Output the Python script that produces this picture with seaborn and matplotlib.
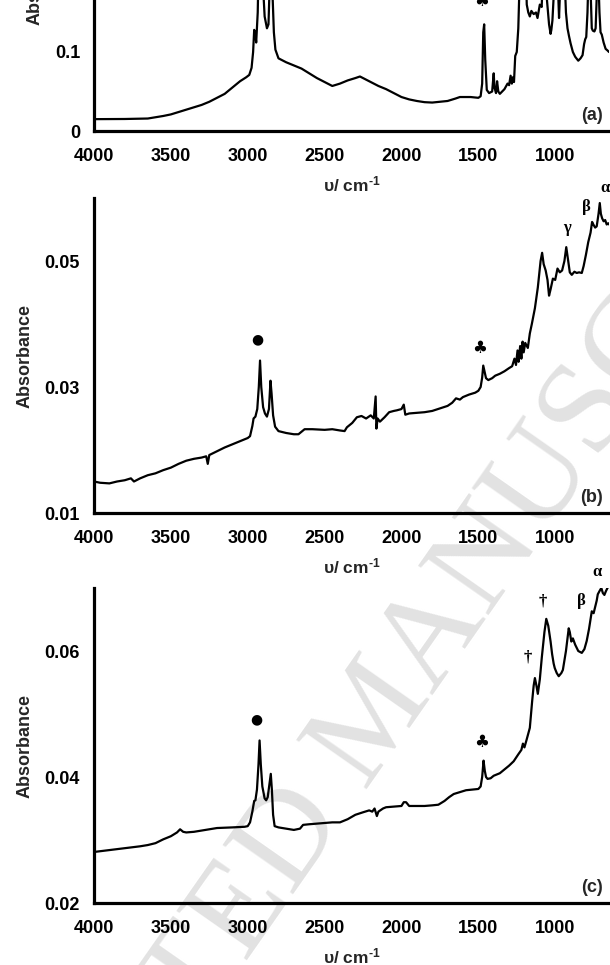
import numpy as np
import pandas as pd
import matplotlib
matplotlib.use("Agg")
import matplotlib.pyplot as plt
import seaborn as sns

# ---------------- data ----------------
a_cm = [4000, 3800, 3650, 3550, 3500, 3400, 3300, 3250, 3150, 3100, 3050, 3010, 2990, 2975, 2965,
        2958, 2950, 2945, 2935, 2925, 2918, 2905, 2890, 2875, 2865, 2855, 2850, 2840, 2830, 2820,
        2800, 2750, 2700, 2650, 2600, 2550, 2500, 2450, 2400, 2350, 2300, 2270, 2240, 2200, 2150,
        2100, 2050, 2000, 1950, 1900, 1850, 1800, 1750, 1700, 1650, 1620, 1550, 1500, 1485, 1475,
        1468, 1462, 1455, 1445, 1430, 1410, 1400, 1395, 1385, 1378, 1370, 1360, 1345, 1330, 1310,
        1300, 1290, 1282, 1275, 1268, 1260, 1250, 1240, 1230, 1222, 1210, 1195, 1185, 1175, 1165,
        1155, 1140, 1125, 1115, 1100, 1088, 1075, 1060, 1050, 1040, 1030, 1025, 1018, 1010, 995,
        985, 975, 968, 960, 950, 940, 930, 920, 910, 900, 885, 870, 850, 835, 822,
        812, 805, 798, 790, 780, 770, 762, 755, 745, 737, 728, 720, 712, 705, 697,
        685, 672, 660, 650]
a_abs = [0.015, 0.0152, 0.0158, 0.019, 0.021, 0.027, 0.033, 0.037, 0.047, 0.055, 0.063, 0.068, 0.071, 0.080, 0.100,
         0.128, 0.122, 0.112, 0.150, 0.25, 0.28, 0.20, 0.145, 0.130, 0.135, 0.20, 0.24, 0.18, 0.125, 0.103,
         0.092, 0.087, 0.083, 0.079, 0.073, 0.067, 0.062, 0.057, 0.060, 0.064, 0.067, 0.069, 0.066, 0.062, 0.057,
         0.053, 0.048, 0.043, 0.040, 0.038, 0.0365, 0.036, 0.037, 0.038, 0.041, 0.043, 0.043, 0.042, 0.044, 0.060,
         0.125, 0.135, 0.090, 0.052, 0.048, 0.050, 0.073, 0.055, 0.048, 0.063, 0.050, 0.047, 0.050, 0.053, 0.060,
         0.058, 0.070, 0.060, 0.068, 0.062, 0.095, 0.100, 0.130, 0.20, 0.30, 0.32, 0.24, 0.16, 0.150, 0.145,
         0.152, 0.148, 0.150, 0.143, 0.16, 0.157, 0.22, 0.18, 0.158, 0.135, 0.123, 0.128, 0.140, 0.17, 0.25,
         0.20, 0.143, 0.18, 0.26, 0.23, 0.20, 0.15, 0.13, 0.12, 0.111, 0.100, 0.094, 0.089, 0.092, 0.096,
         0.11, 0.116, 0.119, 0.15, 0.22, 0.18, 0.13, 0.127, 0.126, 0.13, 0.18, 0.20, 0.15, 0.125, 0.122,
         0.112, 0.104, 0.102, 0.100]

b_cm = [4000, 3960, 3900, 3850, 3800, 3760, 3740, 3700, 3650, 3600, 3550, 3500, 3450, 3400, 3350,
        3300, 3270, 3260, 3250, 3200, 3150, 3100, 3050, 3000, 2985, 2970, 2962, 2950, 2938, 2928,
        2920, 2912, 2900, 2888, 2875, 2862, 2852, 2845, 2835, 2822, 2800, 2750, 2700, 2670, 2630,
        2580, 2500, 2450, 2400, 2370, 2355, 2320, 2290, 2260, 2230, 2200, 2180, 2168, 2163, 2155,
        2140, 2110, 2080, 2050, 2030, 2000, 1985, 1975, 1950, 1900, 1850, 1800, 1750, 1700, 1670,
        1645, 1620, 1600, 1560, 1520, 1500, 1485, 1475, 1468, 1460, 1450, 1435, 1410, 1390, 1360,
        1330, 1300, 1280, 1265, 1255, 1245, 1238, 1228, 1220, 1212, 1205, 1195, 1178, 1165, 1152,
        1132, 1113, 1095, 1085, 1075, 1062, 1050, 1040, 1030, 1015, 1000, 985, 970, 955, 940,
        928, 918, 905, 892, 875, 860, 845, 827, 815, 800, 785, 770, 760, 752, 740,
        730, 718, 710, 703, 695, 685, 675, 665, 655, 650]
b_abs = [0.0150, 0.0148, 0.0147, 0.0150, 0.0152, 0.0155, 0.0150, 0.0155, 0.0160, 0.0163, 0.0168, 0.0172, 0.0178, 0.0183, 0.0186,
         0.0188, 0.0190, 0.0178, 0.0192, 0.0198, 0.0204, 0.0209, 0.0214, 0.0219, 0.0222, 0.0238, 0.0250, 0.0253, 0.0265, 0.0300,
         0.0342, 0.0300, 0.0268, 0.0258, 0.0253, 0.0265, 0.0310, 0.0290, 0.0255, 0.0237, 0.0230, 0.0227, 0.0225, 0.0225, 0.0233,
         0.0233, 0.0232, 0.0233, 0.0231, 0.0230, 0.0236, 0.0243, 0.0252, 0.0254, 0.0250, 0.0255, 0.0250, 0.0285, 0.0234, 0.0250,
         0.0245, 0.0252, 0.0260, 0.0262, 0.0263, 0.0265, 0.0272, 0.0256, 0.0258, 0.0259, 0.0260, 0.0262, 0.0266, 0.0270, 0.0275,
         0.0282, 0.0280, 0.0284, 0.0288, 0.0291, 0.0294, 0.0300, 0.0315, 0.0334, 0.0325, 0.0314, 0.0311, 0.0314, 0.0318, 0.0321,
         0.0325, 0.0330, 0.0333, 0.0345, 0.0335, 0.0358, 0.0340, 0.0365, 0.0345, 0.0372, 0.0355, 0.0370, 0.0362, 0.0385, 0.0400,
         0.0425, 0.0458, 0.0500, 0.0513, 0.0495, 0.0485, 0.0470, 0.0445, 0.0455, 0.0472, 0.0470, 0.0488, 0.0482, 0.0485, 0.0500,
         0.0522, 0.0505, 0.0482, 0.0478, 0.0483, 0.0481, 0.0482, 0.0481, 0.0492, 0.0510, 0.0530, 0.0545, 0.0562, 0.0558, 0.0553,
         0.0555, 0.0575, 0.0592, 0.0575, 0.0568, 0.0563, 0.0565, 0.0558, 0.0560, 0.0558]

c_cm = [4000, 3900, 3800, 3700, 3650, 3600, 3550, 3500, 3460, 3440, 3420, 3400, 3350, 3300, 3250,
        3200, 3100, 3020, 3000, 2985, 2970, 2958, 2950, 2940, 2930, 2923, 2915, 2905, 2890, 2880,
        2870, 2858, 2850, 2843, 2835, 2825, 2800, 2750, 2700, 2660, 2640, 2600, 2550, 2500, 2450,
        2400, 2350, 2300, 2250, 2210, 2190, 2175, 2160, 2150, 2120, 2100, 2050, 2000, 1985, 1970,
        1950, 1900, 1850, 1800, 1760, 1720, 1690, 1660, 1620, 1580, 1540, 1500, 1485, 1475, 1466,
        1458, 1450, 1440, 1420, 1400, 1360, 1330, 1300, 1270, 1240, 1220, 1210, 1200, 1185, 1165,
        1150, 1140, 1132, 1122, 1113, 1100, 1087, 1070, 1058, 1045, 1030, 1020, 1010, 1003, 990,
        977, 960, 950, 930, 912, 905, 895, 885, 870, 850, 827, 810, 795, 780, 762,
        750, 742, 730, 723, 712, 700, 690, 680, 670, 660, 650]
c_abs = [0.0281, 0.0284, 0.0287, 0.0290, 0.0292, 0.0295, 0.0301, 0.0306, 0.0312, 0.0317, 0.0313, 0.0312, 0.0313, 0.0315, 0.0317,
         0.0319, 0.0320, 0.0321, 0.0322, 0.0328, 0.0345, 0.0362, 0.0363, 0.0380, 0.0420, 0.0458, 0.0420, 0.0385, 0.0366, 0.0363,
         0.0368, 0.0390, 0.0405, 0.0380, 0.0340, 0.0322, 0.0320, 0.0318, 0.0316, 0.0318, 0.0324, 0.0325, 0.0326, 0.0327, 0.0328,
         0.0328, 0.0333, 0.0340, 0.0344, 0.0347, 0.0345, 0.0350, 0.0338, 0.0345, 0.0350, 0.0352, 0.0353, 0.0354, 0.0360, 0.0360,
         0.0354, 0.0354, 0.0354, 0.0355, 0.0356, 0.0362, 0.0368, 0.0373, 0.0376, 0.0379, 0.0380, 0.0381, 0.0385, 0.0400, 0.0426,
         0.0410, 0.0400, 0.0397, 0.0398, 0.0402, 0.0406, 0.0412, 0.0418, 0.0425, 0.0436, 0.0443, 0.0453, 0.0447, 0.0460, 0.0478,
         0.0520, 0.0545, 0.0557, 0.0545, 0.0532, 0.0555, 0.0590, 0.0630, 0.0651, 0.0640, 0.0615, 0.0595, 0.0580, 0.0573, 0.0565,
         0.0560, 0.0565, 0.0570, 0.0600, 0.0636, 0.0630, 0.0615, 0.0620, 0.0610, 0.0600, 0.0597, 0.0603, 0.0616, 0.0635, 0.0663,
         0.0660, 0.0668, 0.0680, 0.0690, 0.0695, 0.0700, 0.0692, 0.0689, 0.0695, 0.0700, 0.0703]

x_ticks = [4000, 3500, 3000, 2500, 2000, 1500, 1000]
a_yticks = [0, 0.1, 0.2, 0.3, 0.4]
a_ylabels = ["0", "0.1", "0.2", "0.3", "0.4"]
b_yticks = [0.01, 0.03, 0.05]
b_ylabels = ["0.01", "0.03", "0.05"]
c_yticks = [0.02, 0.04, 0.06]
c_ylabels = ["0.02", "0.04", "0.06"]
panel_tags = ["(a)", "(b)", "(c)"]

# annotations: (text, wavenumber, absorbance, kind)
a_marks = [("♣", 1480, 0.1646, "sym")]
b_marks = [("●", 2935, 0.0375, "dot"), ("♣", 1489, 0.0362, "sym"),
           ("γ", 925, 0.0552, "greek"), ("β", 795, 0.0586, "greek"), ("α", 678, 0.0616, "greek")]
c_marks = [("●", 2943, 0.0492, "dot"), ("♣", 1478, 0.0455, "sym"),
           ("†", 1178, 0.0589, "dag"), ("†", 1080, 0.0679, "dag"),
           ("β", 827, 0.0679, "greek"), ("α", 730, 0.0726, "greek")]

# ---------------- styling ----------------
sns.set_theme(style="white")
plt.rcParams["font.family"] = ["Liberation Sans", "DejaVu Sans"]
plt.rcParams["font.weight"] = "bold"
plt.rcParams["mathtext.fontset"] = "custom"
plt.rcParams["mathtext.rm"] = "Liberation Sans:bold"
plt.rcParams["mathtext.bf"] = "Liberation Sans:bold"
plt.rcParams["mathtext.default"] = "bf"

W, H = 610, 965
fig = plt.figure(figsize=(W / 100, H / 100), dpi=100)

# watermark (behind everything)
fig.text(378 / W, 1 - 718 / H, "ACCEPTED MANUSCRIPT", rotation=55, rotation_mode="anchor",
         ha="center", va="center", fontsize=95, color="#e2e2e2",
         family="Liberation Serif", fontweight="normal", zorder=-5)

left = 94 / W
width = (609 - 94) / W
panels = [
    dict(bottom=131, top=-185, cm=a_cm, ab=a_abs, yl=(0, 0.4), yt=a_yticks, ytl=a_ylabels, marks=a_marks),
    dict(bottom=513, top=198, cm=b_cm, ab=b_abs, yl=(0.01, 0.06), yt=b_yticks, ytl=b_ylabels, marks=b_marks),
    dict(bottom=903, top=588, cm=c_cm, ab=c_abs, yl=(0.02, 0.07), yt=c_yticks, ytl=c_ylabels, marks=c_marks),
]

for p, tag in zip(panels, panel_tags):
    ax = fig.add_axes([left, 1 - p["bottom"] / H, width, (p["bottom"] - p["top"]) / H])
    ax.set_facecolor("none")
    df = pd.DataFrame({"cm": p["cm"], "abs": p["ab"]})
    sns.lineplot(data=df, x="cm", y="abs", ax=ax, color="black", linewidth=1.6,
                 sort=False, estimator=None)
    ax.set_xlim(4000, 650)
    ax.set_ylim(*p["yl"])
    ax.set_xticks(x_ticks)
    ax.set_xticklabels([str(t) for t in x_ticks])
    ax.set_yticks(p["yt"])
    ax.set_yticklabels(p["ytl"])
    for s in ["top", "right"]:
        ax.spines[s].set_visible(False)
    for s in ["left", "bottom"]:
        ax.spines[s].set_linewidth(2.3)
        ax.spines[s].set_color("black")
    ax.tick_params(axis="both", direction="out", length=4, width=1.2, color="black",
                   labelsize=13, labelcolor="black")
    ax.tick_params(axis="x", pad=8)
    ax.tick_params(axis="y", pad=6)
    ax.set_xlabel(r"υ/ cm$^{\text{-1}}$", fontsize=12.5, fontweight="bold", labelpad=7)
    ax.set_ylabel("Absorbance", fontsize=13, fontweight="bold", labelpad=8)
    ax.text(688, p["yl"][0] + (p["yl"][1] - p["yl"][0]) * 16 / 316, tag, ha="right", va="center",
            fontsize=13, fontweight="bold")
    for txt, xx, yy, kind in p["marks"]:
        if kind == "sym":
            kw = dict(fontsize=12, family=["DejaVu Sans"])
        elif kind == "dot":
            kw = dict(fontsize=10, family=["DejaVu Sans"])
        elif kind == "dag":
            kw = dict(fontsize=12, family=["Liberation Serif"])
        else:
            kw = dict(fontsize=12, family=["Liberation Serif"], fontweight="bold")
        ax.text(xx, yy, txt, ha="center", va="center", clip_on=False, color="black", **kw)

fig.savefig("out.png", dpi=100)
